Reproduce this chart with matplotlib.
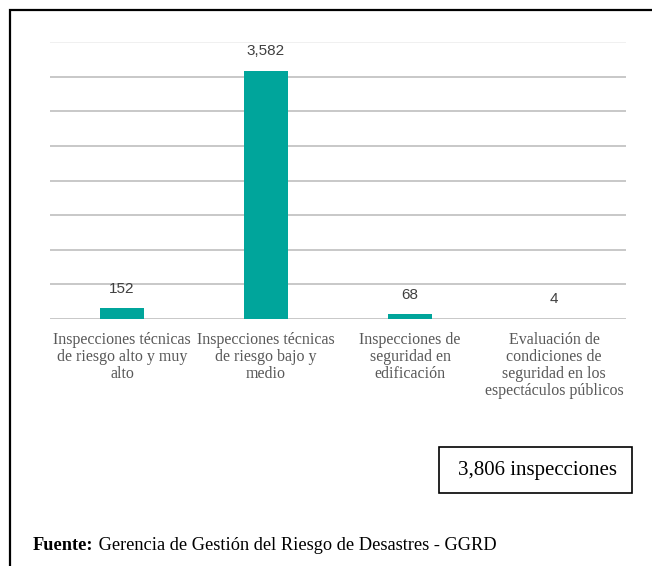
import matplotlib.pyplot as plt
from matplotlib.patches import Rectangle

# data
categories = [
    "Inspecciones técnicas\nde riesgo alto y muy\nalto",
    "Inspecciones técnicas\nde riesgo bajo y\nmedio",
    "Inspecciones de\nseguridad en\nedificación",
    "Evaluación de\ncondiciones de\nseguridad en los\nespectáculos públicos",
]
values = [152, 3582, 68, 4]
total_label = "3,806 inspecciones"
source_head = "Fuente:"
source_text = " Gerencia de Gestión del Riesgo de Desastres - GGRD"

W, H = 652, 566
fig = plt.figure(figsize=(W / 100, H / 100), dpi=100)

ax = fig.add_axes([50 / W, 1 - 319 / H, 576 / W, 277 / H])
x = range(len(values))
ax.bar(x, values, width=0.31, color='#00a59b', zorder=3)
ax.set_xlim(-0.5, len(values) - 0.5)
ax.set_ylim(0, 4000)

for y in range(500, 4000, 500):
    ax.axhline(y, color='#c8c8c8', linewidth=1.4, zorder=1)
ax.axhline(4000, color='#eeeeee', linewidth=1.2, zorder=1)
ax.axhline(0, color='#c8c8c8', linewidth=1.4, zorder=2)

for xi, v in zip(x, values):
    ax.annotate(f"{v:,}", (xi, v), xytext=(0, 9), textcoords='offset points',
                ha='center', va='bottom', fontsize=11, color='#404040',
                family='Liberation Sans')

ax.set_xticks(list(x))
ax.set_xticklabels(categories, family='Liberation Serif', fontsize=11.5,
                   color='#595959', linespacing=1.1)
ax.tick_params(axis='x', length=0, pad=9)
ax.set_yticks([])
for s in ax.spines.values():
    s.set_visible(False)

# outer frame (only left and top visible in the reference crop)
fig.add_artist(Rectangle((10 / W, -0.1), 1.2, 1.1 - 10 / H,
                         transform=fig.transFigure, fill=False,
                         edgecolor='black', linewidth=1.6))

# total box
fig.add_artist(Rectangle((439 / W, 1 - 493 / H), 193 / W, 46 / H,
                         transform=fig.transFigure, fill=False,
                         edgecolor='black', linewidth=1.2))
fig.text(537 / W, 1 - 470 / H, total_label, ha='center', va='center',
         family='Liberation Serif', fontsize=15, color='black')

# source line: bold head followed by regular text
head = fig.text(33 / W, 1 - 545 / H, source_head, ha='left', va='center',
                family='Liberation Serif', fontweight='bold', fontsize=13.2)
fig.canvas.draw()
bb = head.get_window_extent()
fig.text(bb.x1 / W, 1 - 545 / H, source_text, ha='left', va='center',
         family='Liberation Serif', fontsize=13.2)

plt.savefig('out.png', dpi=100)
